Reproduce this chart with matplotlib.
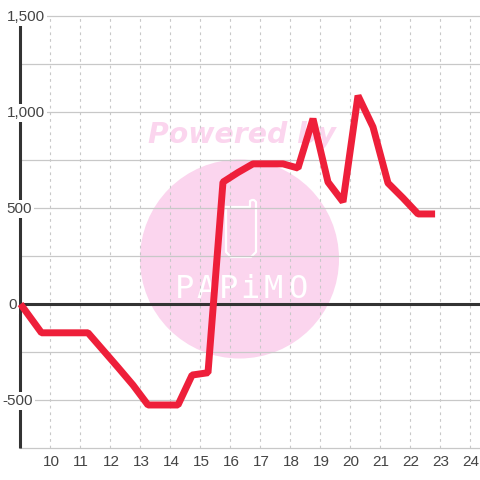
import matplotlib
matplotlib.use("Agg")
import matplotlib.pyplot as plt
from matplotlib.patches import Circle

hours = [9.0, 9.7, 10.25, 10.75, 11.25, 11.75, 12.25, 12.75, 13.25, 13.75, 14.25, 14.72,
         15.25, 15.75, 16.25, 16.75, 17.25, 17.75, 18.25, 18.75, 19.25, 19.75, 20.25,
         20.75, 21.25, 21.75, 22.25, 22.82]
values = [0, -150, -150, -150, -150, -240, -330, -422, -526, -526, -526, -370,
          -358, 635, 685, 730, 730, 730, 708, 965, 635, 532, 1085,
          922, 630, 552, 469, 469]
y_ticks = [-500, 0, 500, 1000, 1500]
y_labels = ["-500", "0", "500", "1,000", "1,500"]
y_label_left = [2.5, 8, 6.5, 6.5, 6.5]
grid_values = [-750, -500, -250, 250, 500, 750, 1000, 1250, 1500]
x_ticks = list(range(10, 25))
logo_letters = ["P", "A", "P", "i", "M", "O"]
logo_x = [184, 206, 229, 250, 273, 298]

grid = "#c8c8c8"
text_col = "#444444"
dark = "#333333"
pink = "#fbd5ee"
red = "#ee1f3a"

fig = plt.figure(figsize=(4.8, 4.8), dpi=100)

# pixel layer for the watermark
bg = fig.add_axes([0, 0, 1, 1], zorder=0)
bg.set_xlim(0, 480)
bg.set_ylim(480, 0)
bg.axis("off")
bg.add_patch(Circle((239.5, 259), 99.5, color=pink, lw=0))
bg.text(242, 135, "Powered by", color=pink, fontsize=20.4, fontweight="bold",
        style="italic", ha="center", va="center", family="DejaVu Sans")
phone_x = [226, 250, 250, 252, 254, 256, 256, 251, 231, 226, 226]
phone_y = [207, 207, 201, 200, 200, 202, 252, 257, 257, 252, 207]
bg.plot(phone_x, phone_y, color="white", lw=1.6)
for lx, ch in zip(logo_x, logo_letters):
    bg.text(lx, 289, ch, color="white", fontsize=23, ha="center", va="center",
            family="DejaVu Sans Mono")

ax = fig.add_axes([0, 0, 1, 1], zorder=1)
ax.patch.set_alpha(0)
ax.set_xlim(8.317, 24.317)
ax.set_ylim(-916.67, 1583.33)
ax.axis("off")

for v in grid_values:
    ax.plot([9, 24.4], [v, v], color=grid, lw=0.9, zorder=1)
for h in x_ticks:
    ax.plot([h, h], [-750, 1500], color=grid, lw=0.8, dashes=(2.5, 3.5), zorder=1)

ax.plot([9, 24.4], [0, 0], color=dark, lw=2.2, zorder=2, solid_capstyle="butt")
ax.plot([9, 9], [-750, 1500], color=dark, lw=2.2, zorder=2, solid_capstyle="butt")

for v, lab, left in zip(y_ticks, y_labels, y_label_left):
    ax.annotate(lab, xy=(0, v), xycoords=("axes fraction", "data"), xytext=(left, -1),
                textcoords="offset pixels", color=text_col, fontsize=11, ha="left",
                va="center", family="Liberation Sans", zorder=3,
                bbox=dict(fc="white", ec="none", pad=1.5))
for h in x_ticks:
    ax.text(h + 0.02, -822, str(h), color=text_col, fontsize=11, ha="center", va="center",
            family="Liberation Sans", zorder=3)

ax.plot(hours, values, color=red, lw=5, zorder=4, solid_joinstyle="bevel",
        solid_capstyle="butt")

fig.savefig("out.png", dpi=100)
